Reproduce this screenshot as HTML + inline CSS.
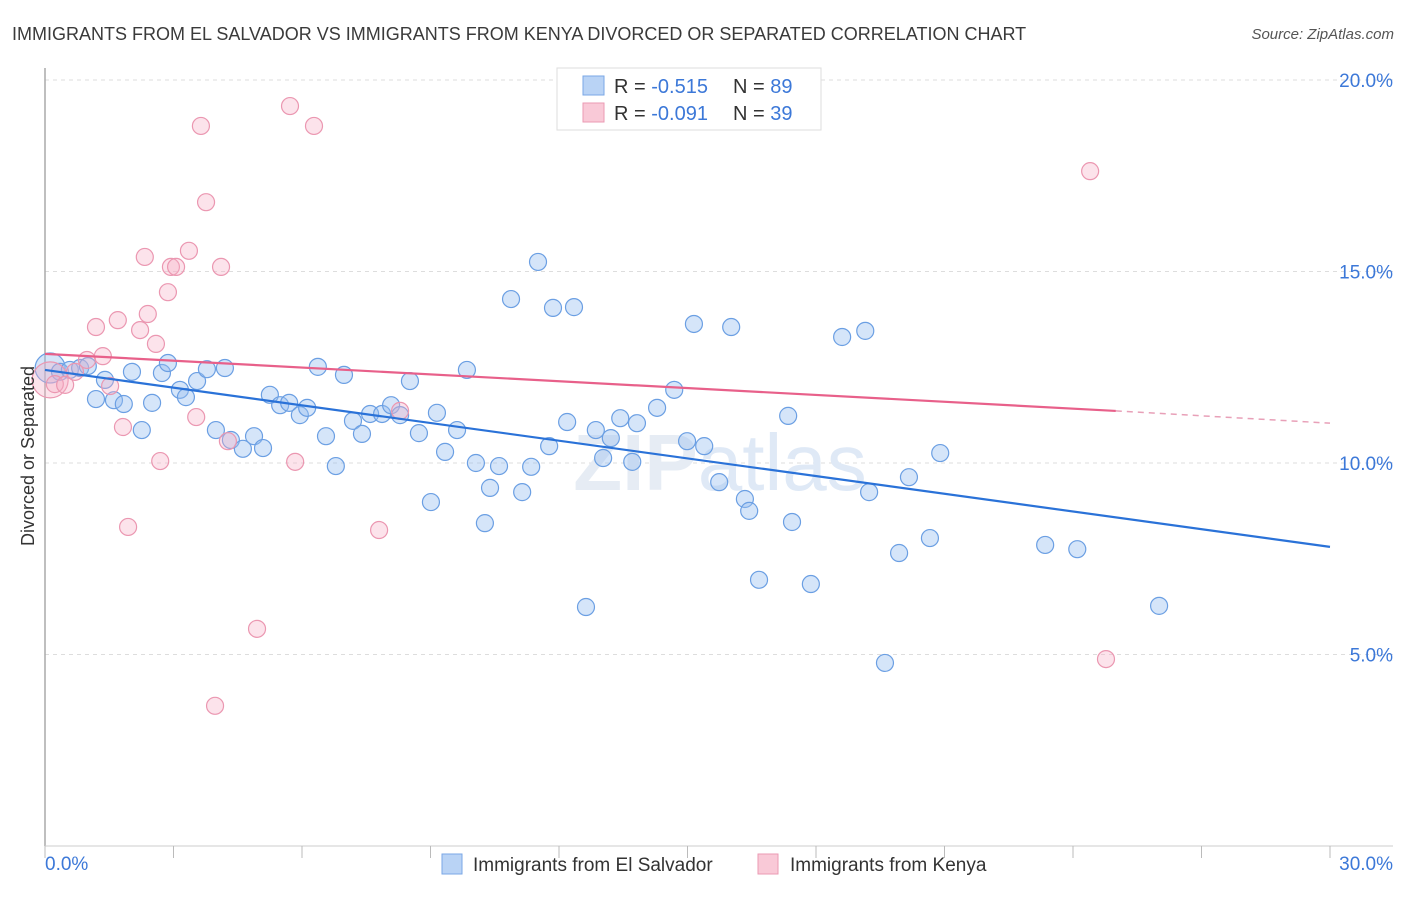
<!DOCTYPE html>
<html><head><meta charset="utf-8"><style>
html,body{margin:0;padding:0;background:#fff;}
body{width:1406px;height:892px;overflow:hidden;font-family:"Liberation Sans",sans-serif;}
</style></head><body>
<svg id="chart" width="1406" height="892" xmlns="http://www.w3.org/2000/svg" style="font-family:'Liberation Sans',sans-serif">
<text x="12" y="40" font-size="18" fill="#3a3a3a">IMMIGRANTS FROM EL SALVADOR VS IMMIGRANTS FROM KENYA DIVORCED OR SEPARATED CORRELATION CHART</text>
<text x="1394" y="39" font-size="15" fill="#555" font-style="italic" text-anchor="end">Source: ZipAtlas.com</text>
<g id="grid"></g>
<text x="720" y="490" font-size="80" fill="#e6ecf4" text-anchor="middle" font-weight="bold">ZIP<tspan font-weight="normal" fill="#dfe9f6">atlas</tspan></text>
<g id="axes"></g>
<g id="pts"></g>
<g id="trends"></g>
<text transform="translate(34,456) rotate(-90)" font-size="18" fill="#333" text-anchor="middle">Divorced or Separated</text>
<g>
<rect x="557" y="68" width="264" height="62" fill="#fff" stroke="#ddd"/>
<rect x="583" y="76" width="21" height="19" fill="#b9d3f5" stroke="#7aa7e6"/>
<rect x="583" y="103" width="21" height="19" fill="#f9c9d7" stroke="#eb9ab3"/>
<text x="614" y="93" font-size="20" fill="#333">R = <tspan fill="#3c78d8">-0.515</tspan><tspan x="733">N = </tspan><tspan fill="#3c78d8">89</tspan></text>
<text x="614" y="120" font-size="20" fill="#333">R = <tspan fill="#3c78d8">-0.091</tspan><tspan x="733">N = </tspan><tspan fill="#3c78d8">39</tspan></text>
</g>
<g>
<rect x="442" y="854" width="20" height="20" fill="#b9d3f5" stroke="#7aa7e6"/>
<text x="473" y="871" font-size="19" fill="#333">Immigrants from El Salvador</text>
<rect x="758" y="854" width="20" height="20" fill="#f9c9d7" stroke="#eb9ab3"/>
<text x="790" y="871" font-size="19" fill="#333">Immigrants from Kenya</text>
</g>
</svg>
<script>
const yTicks=[5,10,15,20];
const yTickLabels=["5.0%","10.0%","15.0%","20.0%"];
const xTickVals=[0,3,6,9,12,15,18,21,24,27,30];
const xEndLabels=["0.0%","30.0%"];
const blueX=[0.12,0.35,0.58,0.82,1.0,1.19,1.40,1.61,1.84,2.03,2.26,2.50,2.73,2.87,3.15,3.29,3.55,3.78,3.99,4.20,4.34,4.62,4.88,5.09,5.25,5.49,5.70,5.95,6.12,6.37,6.56,6.79,6.98,7.19,7.40,7.59,7.87,8.08,8.29,8.52,8.73,9.01,9.15,9.34,9.62,9.85,10.06,10.27,10.39,10.60,10.88,11.14,11.35,11.51,11.77,11.86,12.19,12.35,12.63,12.86,13.03,13.21,13.43,13.71,13.82,14.29,14.69,14.99,15.15,15.39,15.74,16.02,16.34,16.44,16.67,17.35,17.44,17.88,18.61,19.15,19.24,19.61,19.94,20.17,20.66,20.90,23.35,24.10,26.01];
const blueY=[12.48,12.38,12.43,12.48,12.53,11.67,12.17,11.64,11.54,12.38,10.86,11.57,12.35,12.61,11.91,11.72,12.14,12.45,10.86,12.48,10.60,10.37,10.70,10.39,11.78,11.51,11.57,11.25,11.44,12.51,10.70,9.92,12.30,11.10,10.76,11.28,11.28,11.51,11.25,12.14,10.78,8.98,11.31,10.29,10.86,12.43,10.00,8.43,9.35,9.92,14.28,9.24,9.90,15.25,10.44,14.05,11.07,14.07,6.24,10.86,10.13,10.65,11.17,10.03,11.04,11.44,11.91,10.57,13.63,10.44,9.50,13.55,9.06,8.75,6.95,11.23,8.46,6.84,13.29,13.45,9.24,4.78,7.65,9.63,8.04,10.26,7.86,7.75,6.27];
const pinkX=[0.12,0.23,0.47,0.70,0.98,1.19,1.35,1.52,1.70,1.82,1.94,2.22,2.33,2.40,2.59,2.69,2.87,2.94,3.06,3.36,3.53,3.64,3.76,3.97,4.11,4.27,4.95,5.72,5.84,6.28,7.80,8.29,24.40,24.77];
const pinkY=[12.17,12.06,12.04,12.38,12.69,13.55,12.79,12.01,13.73,10.94,8.33,13.47,15.38,13.89,13.11,10.05,14.46,15.12,15.12,15.54,11.20,18.80,16.81,3.66,15.12,10.57,5.67,19.32,10.03,18.80,8.25,11.36,17.62,4.88];
const blueTrend=[[0,12.43],[30,7.81]];
const pinkTrend=[[0,12.85],[25,11.36],[30,11.04]];

const X0=45,X1=1330,Y0=846,PXPER=38.3;
const xs=v=>X0+(X1-X0)*v/30;
const ys=v=>Y0-v*PXPER;
const NS="http://www.w3.org/2000/svg";
function mk(tag,attrs,parent){const e=document.createElementNS(NS,tag);for(const k in attrs)e.setAttribute(k,attrs[k]);parent.appendChild(e);return e;}
const grid=document.getElementById('grid'),axes=document.getElementById('axes');
yTicks.forEach((t,i)=>{
  const l=mk('line',{x1:X0,x2:1393,y1:ys(t),y2:ys(t),stroke:'#ddd','stroke-dasharray':'4,4'},grid);
  
  
  const tx=mk('text',{x:1393,y:ys(t)+7,'font-size':19,fill:'#3c78d8','text-anchor':'end'},axes);
  tx.textContent=yTickLabels[i];
  
  
});
const topG=mk('line',{x1:X0,x2:1393,y1:ys(20.5)+1,y2:ys(20.5)+1,stroke:'#fff'},grid);
const yax=mk('line',{x1:X0,x2:X0,y1:68,y2:Y0,stroke:'#aaa','stroke-width':1.5},axes);


const xax=mk('line',{x1:X0,x2:1393,y1:Y0,y2:Y0,stroke:'#ccc'},axes);


xTickVals.forEach(t=>{
  const l=mk('line',{x1:xs(t),x2:xs(t),y1:Y0,y2:Y0+12,stroke:'#bbb'},axes);
  
  
});
const xl0=mk('text',{x:X0,y:870,'font-size':19,fill:'#3c78d8'},axes);xl0.textContent=xEndLabels[0];


const xl1=mk('text',{x:1393,y:870,'font-size':19,fill:'#3c78d8','text-anchor':'end'},axes);xl1.textContent=xEndLabels[1];


const pts=document.getElementById('pts');
blueX.forEach((x,i)=>{
  const c=mk('circle',{cx:xs(x),cy:ys(blueY[i]),r:i===0?15:8.5,fill:'rgba(150,190,240,0.4)',stroke:'#6b9fe3','stroke-width':1.2},pts);
  
  
});
pinkX.forEach((x,i)=>{
  const c=mk('circle',{cx:xs(x),cy:ys(pinkY[i]),r:i===0?18:8.5,fill:'rgba(245,175,198,0.35)',stroke:'#eb97b1','stroke-width':1.2},pts);
  
  
});
const tr=document.getElementById('trends');
const bl=mk('line',{x1:xs(blueTrend[0][0]),y1:ys(blueTrend[0][1]),x2:xs(blueTrend[1][0]),y2:ys(blueTrend[1][1]),stroke:'#2a72d8','stroke-width':2.2},tr);


const pl=mk('line',{x1:xs(pinkTrend[0][0]),y1:ys(pinkTrend[0][1]),x2:xs(pinkTrend[1][0]),y2:ys(pinkTrend[1][1]),stroke:'#e8608a','stroke-width':2.2},tr);


const pd=mk('line',{x1:xs(pinkTrend[1][0]),y1:ys(pinkTrend[1][1]),x2:xs(pinkTrend[2][0]),y2:ys(pinkTrend[2][1]),stroke:'#e8a0b8','stroke-width':1.5,'stroke-dasharray':'6,5'},tr);


</script>
</body></html>
